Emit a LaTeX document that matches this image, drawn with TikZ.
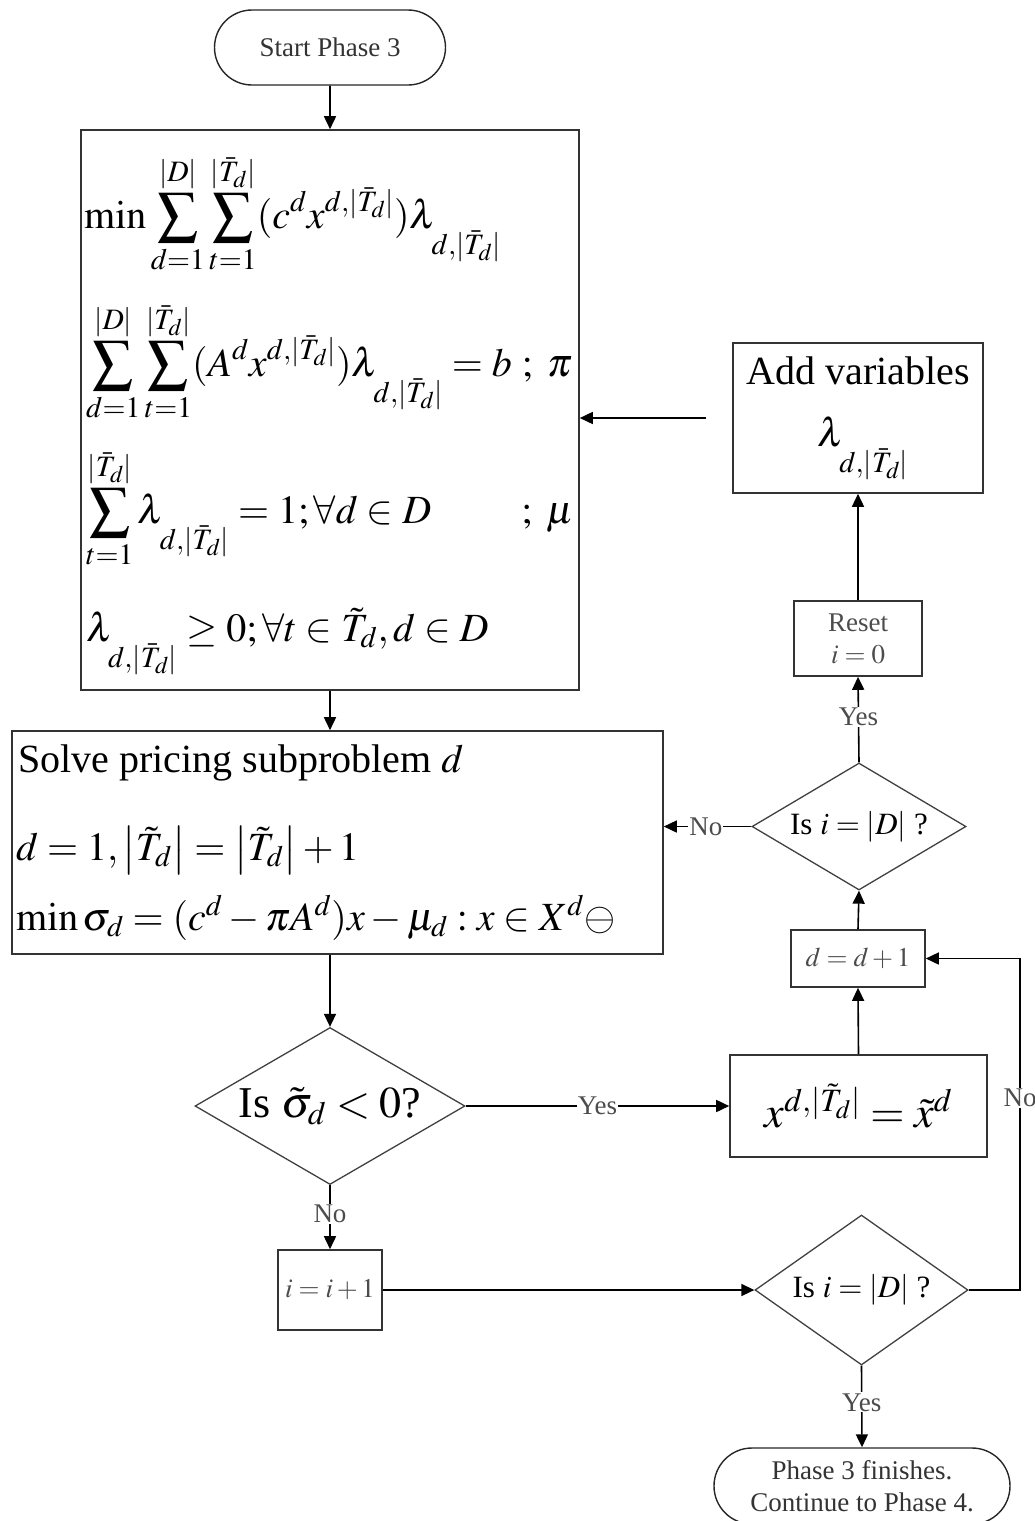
\documentclass[tikz,border=0pt]{standalone}
\usepackage{mathptmx}
\usepackage{fontspec}
\setmainfont{Liberation Serif}
\usetikzlibrary{arrows.meta,shapes.geometric,shapes.misc}

\newcommand{\lamT}{\lambda_{\lower.5em\hbox{$\scriptstyle d,|\bar{T}_d|$}}}

\begin{document}
\begin{tikzpicture}[
  x=1pt, y=-1pt,
  font=\fontsize{27}{32}\selectfont,
  box/.style={rectangle, draw=black!80, line width=1.6pt, inner sep=0pt},
  term/.style={rounded rectangle, draw=black!85, line width=1.4pt, align=center,
               text=black!80, inner sep=0pt},
  decision/.style={diamond, draw=black!75, line width=1.3pt, inner sep=0pt},
  mline/.style={anchor=base west, inner sep=0pt, font=\fontsize{40}{48}\selectfont},
  bigtxt/.style={font=\fontsize{40}{48}\selectfont},
  qtxt/.style={font=\fontsize{31}{36}\selectfont},
  lbl/.style={fill=white, inner sep=1pt, text=black!70},
  arr/.style={-{Triangle[length=13pt,width=12pt]}, line width=1.6pt}
]
\useasboundingbox (0,0) rectangle (1034,1521);

\node[term, minimum width=231pt, minimum height=75pt] (start) at (330,47.5) {Start Phase 3};

% master problem
\node[box, minimum width=498pt, minimum height=560pt] (master) at (330,410) {};
\node[mline] (obj) at (84,228)
  {$\displaystyle\min\sum_{d=1}^{|D|}\sum_{t=1}^{|\bar{T}_d|}(c^d x^{d,|\bar{T}_d|})\lamT$};
\node[mline] (link) at (86,376)
  {$\displaystyle\sum_{d=1}^{|D|}\sum_{t=1}^{|\bar{T}_d|}(A^d x^{d,|\bar{T}_d|})\lamT = b\ ;\ \pi$};
\node[mline] (conv) at (86,523)
  {$\displaystyle\sum_{t=1}^{|\bar{T}_d|}\lamT =1;\forall d\in D\qquad\ ;\ \mu$};
\node[mline] (nonneg) at (86,641)
  {$\lamT \ge 0;\forall t\in\tilde{T}_d, d\in D$};

% pricing
\node[box, minimum width=651pt, minimum height=223pt] (pricing) at (337.5,842.5) {};
\node[mline] (prtitle) at (18,772) {Solve pricing subproblem $d$};
\node[mline] (prinit) at (16,860) {$d=1,\left|\tilde{T}_d\right|=\left|\tilde{T}_d\right|+1$};
\node[mline] (probj) at (16,930) {$\min\sigma_d=(c^d-\pi A^d)x-\mu_d : x\in X^d\ominus$};

% decisions and updates
\node[decision, minimum width=270pt, minimum height=157pt] (sigq) at (330,1106) {};
\node[font=\fontsize{44}{50}\selectfont] (sigqtxt) at (sigq) {Is $\tilde{\sigma}_d<0$?};

\node[box, minimum width=257pt, minimum height=102pt, font=\fontsize{44}{50}\selectfont]
  (newcol) at (858.5,1106) {$x^{d,|\tilde{T}_d|}=\tilde{x}^d$};
\node[box, minimum width=134pt, minimum height=57pt, text=black!70] (incd) at (858,958.5) {$d=d+1$};

\node[decision, minimum width=214pt, minimum height=127pt] (lastq) at (859,826.5) {};
\node[qtxt] (lastqtxt) at (lastq) {Is $i=\left|D\right|$ ?};

\node[box, minimum width=128pt, minimum height=75pt, align=center, text=black!70]
  (reset) at (858,638.5) {Reset\\$i=0$};
\node[box, minimum width=250pt, minimum height=150pt, align=center, bigtxt]
  (addvar) at (858,418) {Add variables\\[14pt]\hspace*{10pt}$\lamT$};

\node[box, minimum width=104pt, minimum height=80pt, text=black!70] (inci) at (330,1290) {$i=i+1$};

\node[decision, minimum width=213pt, minimum height=150pt] (endq) at (861.5,1290) {};
\node[qtxt] (endqtxt) at (endq) {Is $i=\left|D\right|$ ?};

\node[term, minimum width=296pt, minimum height=76pt] (finish) at (862,1486)
  {Phase 3 finishes.\\Continue to Phase 4.};

\coordinate (loop) at (1020,1290);

\draw[arr] (start) -- (master);
\draw[arr] (master.south) -- (master.south |- pricing.north);
\draw[arr] (sigq.north |- pricing.south) -- (sigq.north);
\draw[arr] (sigq.east) -- node[lbl] {Yes} (newcol.west);
\draw[arr] (sigq.south) -- node[lbl, pos=0.45] {No} (inci.north);
\draw[arr] (inci.east) -- (endq.west);
\draw[arr] (endq.south) -- node[lbl, pos=0.45] {Yes} (finish.north);
\draw[arr] (endq.east) -- (loop) |- node[lbl, pos=0.29] {No} (incd.east);
\draw[arr] (newcol.north) -- (incd.south);
\draw[arr] (incd.north) -- (lastq.south);
\draw[arr] (lastq.west) -- node[lbl, pos=0.52] {No} (lastq.west -| pricing.east);
\draw[arr] (lastq.north) -- node[lbl, pos=0.53] {Yes} (reset.south);
\draw[arr] (reset.north) -- (addvar.south);
\draw[arr, shorten <=26pt] (addvar.west) -- (addvar.west -| master.east);
\end{tikzpicture}
\end{document}
